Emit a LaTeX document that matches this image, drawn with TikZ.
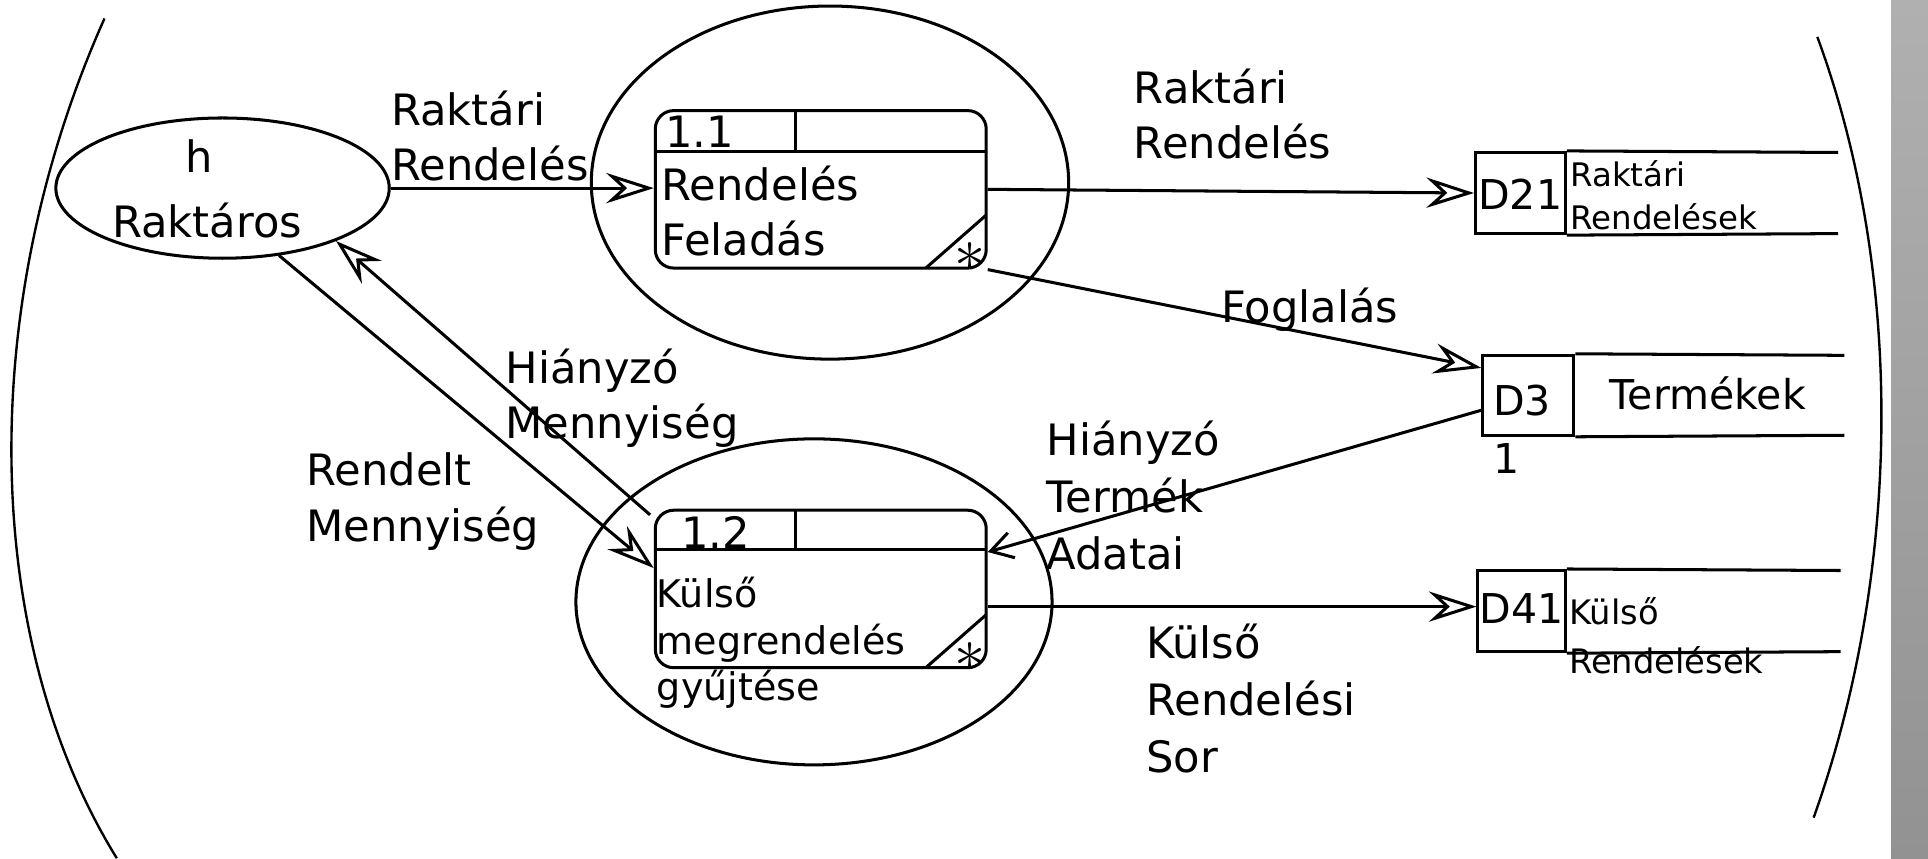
\documentclass[tikz,border=0pt]{standalone}
\usepackage{fontspec}
\setmainfont{DejaVu Sans}
\usetikzlibrary{arrows.meta,shapes.geometric,calc}
\definecolor{bartop}{RGB}{176,176,176}
\definecolor{barbot}{RGB}{146,146,146}
\begin{document}
\begin{tikzpicture}[x=0.01cm,y=-0.01cm,
  line width=0.7pt,
  lbl/.style={anchor=base west, align=left, inner sep=0pt, font=\fontsize{10}{12.8}\selectfont},
  lblthree/.style={lbl, font=\fontsize{10}{13.1}\selectfont},
  boxtxt/.style={lbl, font=\fontsize{8.8}{10.8}\selectfont},
  storetxt/.style={lbl, font=\fontsize{7.5}{10}\selectfont},
  storeid/.style={lbl, font=\fontsize{9.5}{11}\selectfont},
  proc/.style={draw, rounded corners=0.15cm, minimum width=2.69cm, minimum height=1.28cm, inner sep=0pt},
  oval/.style={draw, ellipse, inner sep=0pt},
  storebox/.style={draw, minimum height=0.66cm, inner sep=0pt},
  flow/.style={-{Stealth[open,length=11pt,width=7pt,inset=3.8pt]}},
  thinflow/.style={-{Straight Barb[length=5pt,width=6pt]}},
  astx/.style={inner sep=0pt, font=\fontsize{15}{15}\selectfont},
]
\useasboundingbox (0,0) rectangle (1568,698);
\shade[top color=bartop,bottom color=barbot] (1538,0) rectangle (1568,698);
% outer arcs
\draw[line width=0.55pt] (85,15) .. controls (-20,250) and (-15,520) .. (95,698);
\draw[line width=0.55pt] (1478,30) .. controls (1548,220) and (1548,460) .. (1475,665);

% external entity
\node[oval, minimum width=2.71cm, minimum height=1.14cm] (rak) at (181,153) {};
\node[lbl] (rakh) at (150,140) {h};
\node[lbl] (raktxt) at (90,193) {Raktáros};

% process 1.1
\node[oval, minimum width=3.88cm, minimum height=2.87cm] (e1) at (675,148.5) {};
\node[proc] (p1) at (667.5,154) {};
\draw (533,123) -- (802,123);
\draw (647,90) -- (647,123);
\draw (753,218) -- (802,175);
\node[astx] (ast1) at (789,209) {$\ast$};
\node[lbl] (p1num) at (540,120) {1.1};
\node[lbl] (p1txt) at (537,208) {Rendelés\\Feladás};

% process 1.2
\node[oval, minimum width=3.87cm, minimum height=2.65cm] (e2) at (662,489.5) {};
\node[proc] (p2) at (667.5,479) {};
\draw (533,447) -- (802,447);
\draw (647,415) -- (647,447);
\draw (753,543) -- (802,500);
\node[astx] (ast2) at (789,534) {$\ast$};
\node[lbl] (p2num) at (553,446) {1.2};
\node[boxtxt] (p2txt) at (533,570) {Külső\\megrendelés\\gyűjtése};

% data stores
\node[storebox, minimum width=0.73cm] (d21) at (1236.5,157) {};
\draw (d21.north east) -- (1495,124);
\draw (d21.south east) -- (1495,190);
\node[storeid] (d21id) at (1201,170) {D21};
\node[storetxt] (d21txt) at (1276,187) {Raktári\\Rendelések};

\node[storebox, minimum width=0.74cm, minimum height=0.65cm] (d3) at (1243,321.5) {};
\draw (d3.north east) -- (1500,289);
\draw (d3.south east) -- (1500,354);
\node[storeid] (d3id) at (1213,338) {D3};
\node[storeid] (d3txt) at (1308,333) {Termékek};
\node[storeid] (d3one) at (1213,385) {1};

\node[storebox, minimum width=0.71cm] (d41) at (1237.5,497) {};
\draw (d41.north east) -- (1497,464);
\draw (d41.south east) -- (1497,530);
\node[storeid] (d41id) at (1202,507) {D41};
\node[storetxt, font=\fontsize{7.8}{11.4}\selectfont] (d41txt) at (1275,548) {Külső\\Rendelések};

% flows
\draw[flow] (rak.east) -- (rak.east -| p1.west);
\draw[flow] (p1.east) -- (d21.west);
\draw[flow] (p1.south east) -- ($(d3.north west)!0.17!(d3.south west)$);
\draw[thinflow] ($(d3.north west)!0.68!(d3.south west)$) -- ($(p2.north east)!0.27!(p2.south east)$);
\coordinate (p2out) at ($(p2.north east)!0.61!(p2.south east)$);
\draw[flow] (p2out) -- (p2out -| d41.west);
\draw[flow] (rak.-50) -- ($(p2.north west)!0.37!(p2.south west)$);
\draw[flow] ($(p2.north west)+(-3,5)$) -- (rak.-25);

% flow labels
\node[lbl] (l1) at (317,147) {Raktári\\Rendelés};
\node[lbl] (l2) at (921,129) {Raktári\\Rendelés};
\node[lbl] (l3) at (992,262) {Foglalás};
\node[lbl] (l4) at (410,357) {Hiányzó\\Mennyiség};
\node[lbl] (l5) at (248,440) {Rendelt\\Mennyiség};
\node[lblthree] (l6) at (850,463) {Hiányzó\\Termék\\Adatai};
\node[lblthree] (l7) at (931,628) {Külső\\Rendelési\\Sor};
\end{tikzpicture}
\end{document}
